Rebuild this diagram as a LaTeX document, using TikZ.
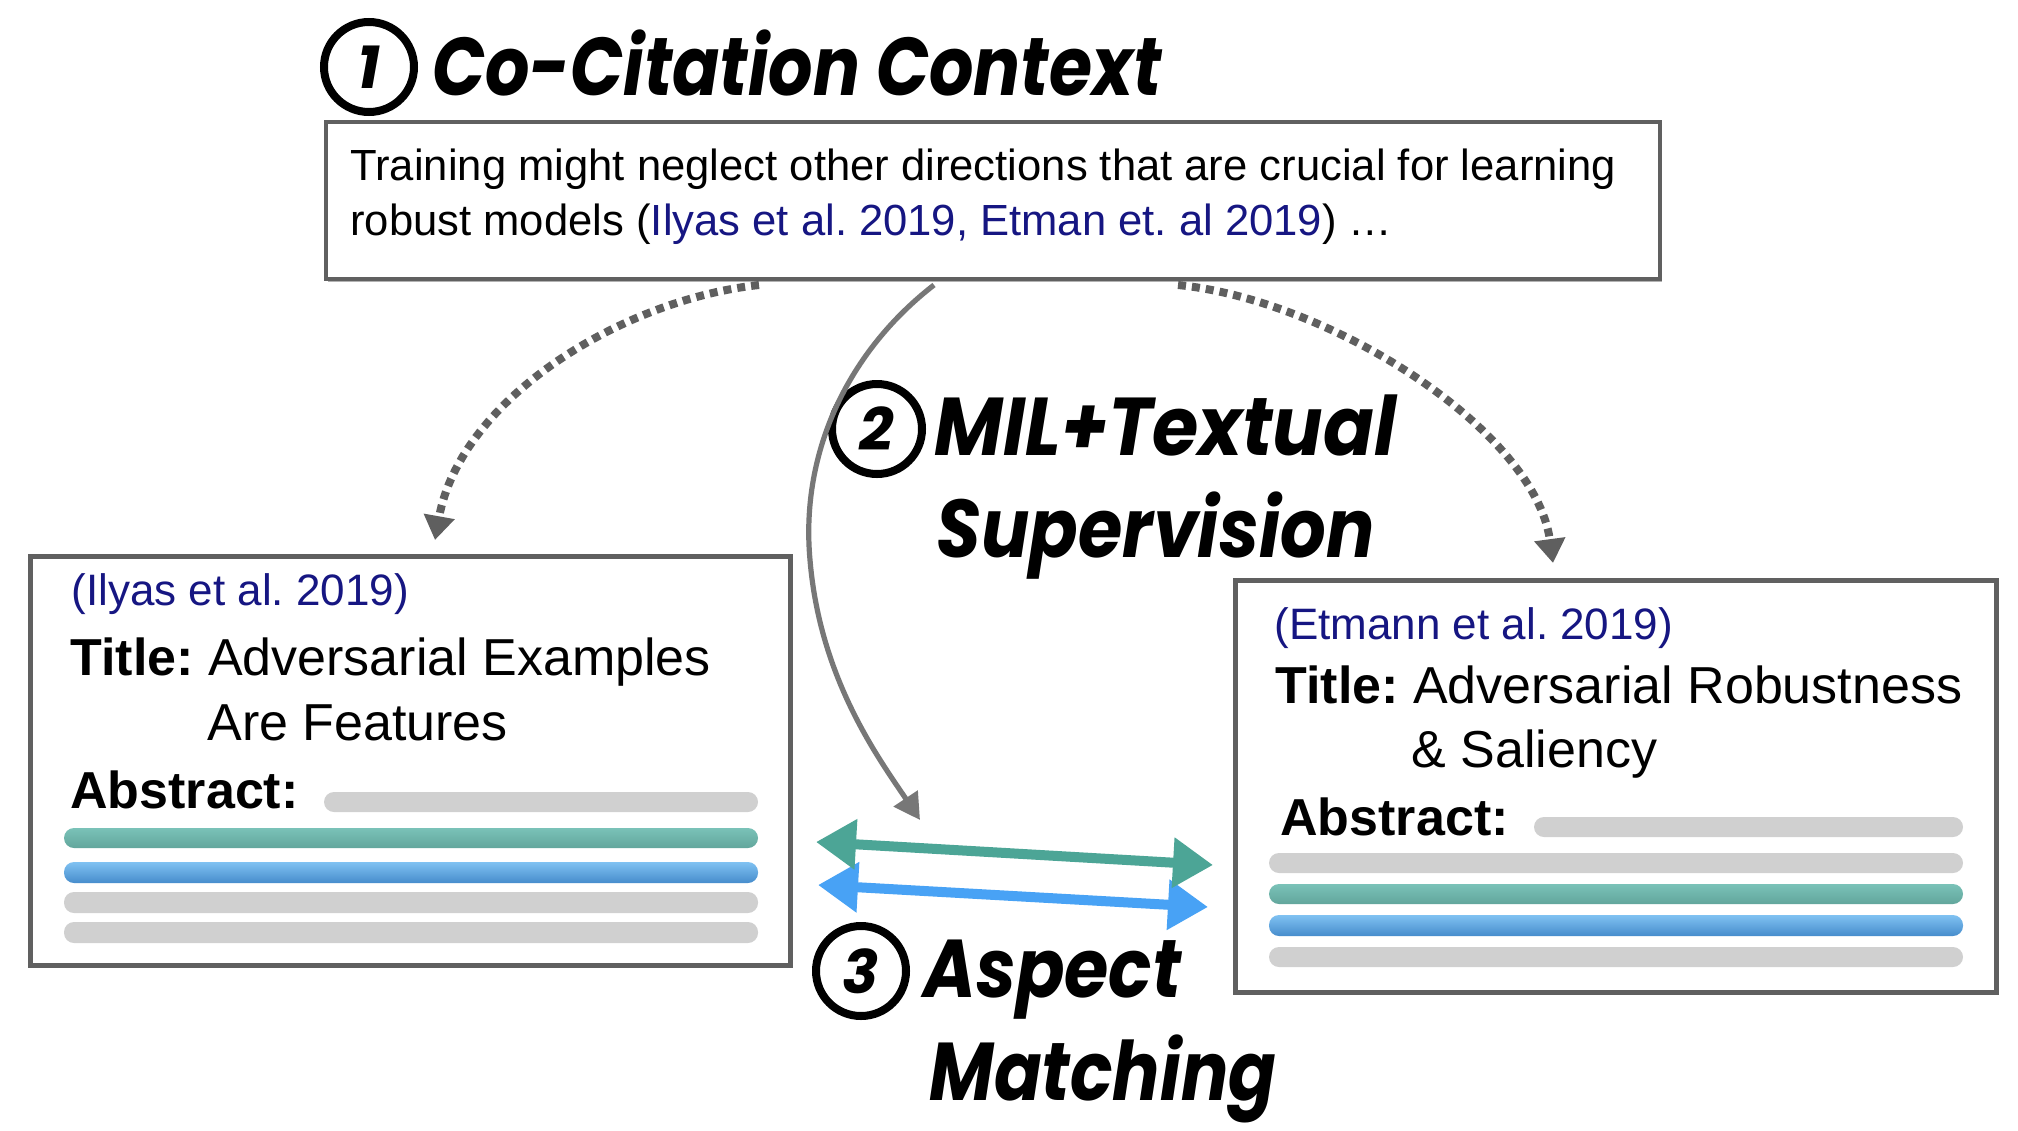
\documentclass[tikz,border=0pt]{standalone}
\usepackage{fontspec}
\setmainfont{Liberation Sans}
\newfontfamily\headfont{Poppins}
\usetikzlibrary{arrows.meta,shadows}
\frenchspacing
\definecolor{citec}{RGB}{22,22,130}
\definecolor{framec}{RGB}{96,96,96}
\definecolor{barg}{RGB}{208,208,208}
\definecolor{tealT}{RGB}{122,194,184}
\definecolor{tealB}{RGB}{98,166,156}
\definecolor{blueT}{RGB}{128,194,242}
\definecolor{blueB}{RGB}{70,140,204}
\definecolor{tealA}{RGB}{76,165,150}
\definecolor{blueA}{RGB}{72,162,245}
\definecolor{arrowgray}{RGB}{95,95,95}
\tikzset{
  card/.style={draw=framec, line width=2.5pt, fill=white, inner sep=0pt},
  ctxtxt/.style={font=\fontsize{21.8}{28.5}\selectfont, anchor=base west, inner sep=0pt},
  citetxt/.style={font=\fontsize{22}{26}\selectfont, text=citec, anchor=base west, inner sep=0pt},
  titletxt/.style={font=\fontsize{26}{30}\selectfont, anchor=base west, inner sep=0pt},
  numcirc/.style={circle, draw, line width=4pt, minimum size=45pt, inner sep=0pt,
     font=\headfont\bfseries\itshape\fontsize{30}{30}\selectfont},
  headtxt/.style={anchor=base west, inner sep=0pt,
     font=\headfont\bfseries\itshape\fontsize{41}{41}\selectfont},
  dotarrow/.style={draw=arrowgray, line width=4pt, dash pattern=on 4pt off 3pt,
     -{Triangle[width=15pt,length=12pt]}},
  pencil/.style={draw=arrowgray!85, line width=2.6pt, -{Triangle[width=14pt,length=13pt]}},
  aspect/.style={line width=5pt, {Triangle[width=24pt,length=20pt]}-{Triangle[width=24pt,length=20pt]}},
  grayBar/.style={fill=barg, rounded corners=5pt},
  tealBar/.style={top color=tealT, bottom color=tealB, rounded corners=5pt},
  blueBar/.style={top color=blueT, bottom color=blueB, rounded corners=5pt}
}
\begin{document}
\begin{tikzpicture}[x=0.5pt,y=-0.5pt]
\useasboundingbox (0,0) rectangle (2018,1130);
\fill[white] (0,0) rectangle (2018,1130);

% ---- top context box
\node[card, line width=2.2pt, minimum width=667pt, minimum height=78.5pt,
      drop shadow={shadow xshift=1.2pt, shadow yshift=-1.5pt, opacity=0.3, fill=black}]
      (ctx) at (993,200.5) {};
\node[ctxtxt] (ctxl1) at (350,180) {Training might neglect other directions that are crucial for learning};
\node[ctxtxt] (ctxl2) at (350,235) {robust models (\textcolor{citec}{Ilyas et al. 2019, Etman et. al 2019}) …};

% ---- heading 1
\node[numcirc] (n1) at (369,67) {1};
\node[headtxt] (h1) at (432,95) {\resizebox{364.5pt}{\height}{Co-Citation Context}};

% ---- left card
\node[card, minimum width=380pt, minimum height=204.5pt] (cardL) at (410,760.5) {};
\node[citetxt] (citeL) at (71,605) {(Ilyas et al. 2019)};
\node[titletxt] (titleL) at (70,675) {\textbf{Title:} Adversarial Examples};
\node[titletxt] (titleLb) at (207,740) {Are Features};
\node[titletxt] (absL) at (70,808) {\textbf{Abstract:}};
\path[grayBar] (324,792) rectangle (758,812);
\path[tealBar] (64,828) rectangle (758,848);
\path[blueBar] (64,862) rectangle (758,883);
\path[grayBar] (64,892) rectangle (758,913);
\path[grayBar] (64,922) rectangle (758,943);

% ---- right card
\node[card, minimum width=380.5pt, minimum height=206pt] (cardR) at (1615.5,786) {};
\node[citetxt] (citeR) at (1274,639) {(Etmann et al. 2019)};
\node[titletxt] (titleR) at (1275,703) {\textbf{Title:} Adversarial Robustness};
\node[titletxt] (titleRb) at (1411,767) {\& Saliency};
\node[titletxt] (absR) at (1280,835) {\textbf{Abstract:}};
\path[grayBar] (1534,817) rectangle (1963,837);
\path[grayBar] (1269,853) rectangle (1963,873);
\path[tealBar] (1269,884) rectangle (1963,904);
\path[blueBar] (1269,915) rectangle (1963,936);
\path[grayBar] (1269,947) rectangle (1963,967);

% ---- heading 2
\node[numcirc] (n2) at (877,429) {2};
\node[headtxt] (h2a) at (934,455) {\resizebox{231pt}{\height}{MIL+Textual}};
\node[headtxt] (h2b) at (936,557) {\resizebox{219pt}{\height}{Supervision}};

% ---- heading 3
\node[numcirc] (n3) at (861,971) {3};
\node[headtxt] (h3a) at (923,997) {\resizebox{129pt}{\height}{Aspect}};
\node[headtxt] (h3b) at (929,1100) {\resizebox{173.5pt}{\height}{Matching}};

% ---- connectors
\coordinate (ls) at (759,285);
\coordinate (le) at (435,540);
\coordinate (rs) at (1178,285);
\coordinate (re) at (1553,563);
\coordinate (ms) at (934,285);
\coordinate (mm) at (810,560);
\coordinate (me) at (920,820);
\draw[dotarrow] (ls) .. controls (620,300) and (460,400) .. (le);
\draw[dotarrow] (rs) .. controls (1330,300) and (1535,430) .. (re);
\draw[pencil] (ms) .. controls (850,350) and (800,450) .. (mm) .. controls (820,680) and (880,760) .. (me);

\coordinate (ta) at (816,842);
\coordinate (tb) at (1213,865);
\coordinate (ba) at (818,885);
\coordinate (bb) at (1208,907);
\draw[aspect, draw=blueA, fill=blueA] (ba) -- (bb);
\draw[aspect, draw=tealA, fill=tealA] (ta) -- (tb);
\end{tikzpicture}
\end{document}
